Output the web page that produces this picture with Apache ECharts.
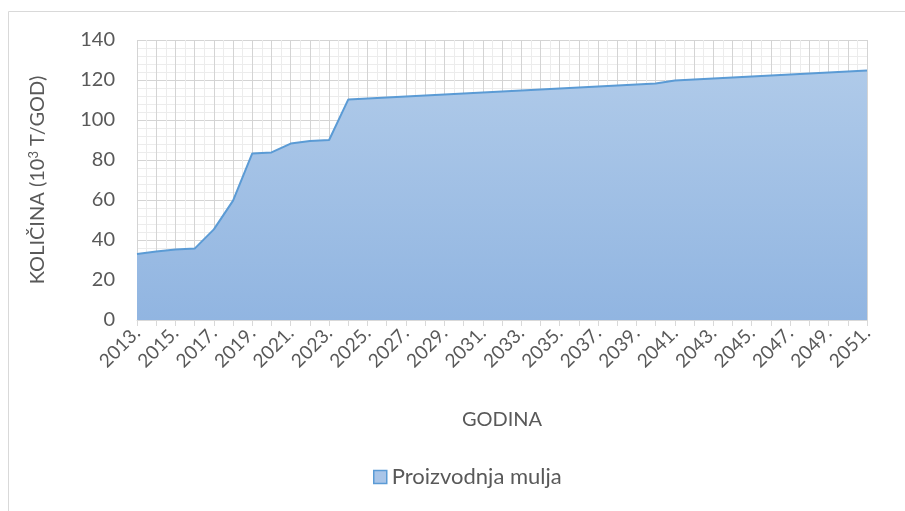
<!DOCTYPE html>
<html><head><meta charset="utf-8">
<script src="https://cdn.jsdelivr.net/npm/echarts@6/dist/echarts.min.js"></script>
<style>html,body{margin:0;padding:0;background:#fff}#c{width:905px;height:511px}</style>
</head><body><div id="c"></div>
<script>
const years = ['2013.','2014.','2015.','2016.','2017.','2018.','2019.','2020.','2021.','2022.','2023.','2024.','2025.','2026.','2027.','2028.','2029.','2030.','2031.','2032.','2033.','2034.','2035.','2036.','2037.','2038.','2039.','2040.','2041.','2042.','2043.','2044.','2045.','2046.','2047.','2048.','2049.','2050.','2051.'];
const production = [33,34.2,35.2,35.7,45.3,59.7,83.3,83.8,88.2,89.5,90,110.3,110.8,111.3,111.8,112.3,112.8,113.3,113.8,114.3,114.8,115.3,115.8,116.3,116.8,117.3,117.8,118.3,119.8,120.3,120.8,121.3,121.8,122.3,122.8,123.3,123.8,124.3,124.8];
const yTicks = {min:0, max:140, interval:20};
const seriesName = 'Proizvodnja mulja';
const FONT = 'Lato';
const chart = echarts.init(document.getElementById('c'), null, {renderer:'canvas'});
chart.setOption({
  animation:false,
  textStyle:{fontFamily:FONT},
  graphic:[{type:'rect',shape:{x:8.5,y:11.5,width:1000,height:1000},style:{fill:'none',stroke:'#d9d9d9',lineWidth:1},z:-1}],
  grid:{left:137,right:38,top:40,bottom:191},
  legend:{bottom:18,left:368,itemWidth:13,itemHeight:13,itemGap:6,
    textStyle:{fontSize:22,color:'#595959',fontFamily:FONT},
    data:[{name:seriesName,icon:'rect',itemStyle:{color:'#a9c5e8',borderColor:'#5b9bd5',borderWidth:1.5}}]},
  xAxis:[{
    type:'category',data:years,boundaryGap:false,
    name:'GODINA',nameLocation:'middle',nameGap:90,
    nameTextStyle:{fontSize:20,color:'#595959'},
    axisLine:{lineStyle:{color:'#d9d9d9',width:1}},
    axisTick:{show:true,interval:0,length:6,lineStyle:{color:'#d9d9d9'}},
    axisLabel:{interval:1,rotate:45,fontSize:19,color:'#595959',margin:10},
    splitLine:{show:false}
  },{
    type:'value',min:0,max:years.length-1,interval:1,show:true,position:'bottom',
    axisLine:{show:false},axisTick:{show:false},axisLabel:{show:false},
    splitLine:{show:true,lineStyle:{color:'#d4d4d4',width:1}},
    minorTick:{show:false,splitNumber:2},
    minorSplitLine:{show:true,lineStyle:{color:'#ececec',width:1}}
  }],
  yAxis:{
    type:'value',min:yTicks.min,max:yTicks.max,interval:yTicks.interval,
    name:'KOLIČINA (10{sup|3} T/GOD)',nameLocation:'middle',nameGap:88,
    nameTextStyle:{fontSize:20,color:'#595959',rich:{sup:{fontSize:13,color:'#595959',padding:[0,0,9,0]}}},
    axisLine:{show:false},axisTick:{show:false},
    axisLabel:{fontSize:20,color:'#595959',margin:22},
    splitLine:{show:true,lineStyle:{color:'#d4d4d4',width:1}},
    minorTick:{show:false,splitNumber:5},
    minorSplitLine:{show:true,lineStyle:{color:'#ececec',width:1}}
  },
  series:[{
    name:seriesName,type:'line',xAxisIndex:0,data:production,symbol:'none',
    lineStyle:{color:'#5b9bd5',width:2},
    itemStyle:{color:'#a9c5e8'},
    areaStyle:{color:new echarts.graphic.LinearGradient(0,0,0,1,[{offset:0,color:'#afcae9'},{offset:1,color:'#91b5e1'}]),opacity:1},
    z:3
  }]
});
</script></body></html>
